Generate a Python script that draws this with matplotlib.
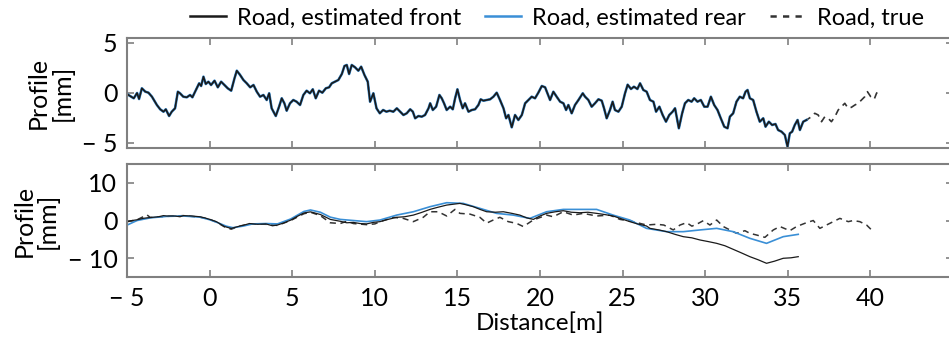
import matplotlib
matplotlib.use("Agg")
import matplotlib.pyplot as plt

plt.rcParams['font.family'] = ['Lato', 'DejaVu Sans']

# top panel: estimated profile (front and rear practically overlap)
top_est = [(-5.0, -0.1), (-4.92, -0.2), (-4.6, -0.53), (-4.4, 0.0), (-4.28, -0.6), (-4.11, 0.47),
           (-3.9, 0.13), (-3.71, 0.03), (-3.5, -0.37), (-3.2, -1.2), (-3.0, -1.63), (-2.8, -1.87),
           (-2.66, -1.63), (-2.46, -2.3), (-2.3, -1.87), (-2.1, -1.53), (-1.93, 0.13), (-1.8, -0.03),
           (-1.6, -0.37), (-1.39, -0.43), (-1.19, -0.2), (-1.05, -0.43), (-0.84, 0.3), (-0.64, 0.97),
           (-0.52, 0.7), (-0.38, 1.63), (-0.24, 0.9), (-0.08, 1.13), (0.08, 0.8), (0.29, 1.23),
           (0.49, 0.57), (0.69, 1.13), (0.89, 0.8), (1.09, 0.47), (1.3, 0.23), (1.5, 1.47),
           (1.64, 2.23), (1.84, 1.8), (2.04, 1.3), (2.24, 0.97), (2.45, 0.57), (2.65, 0.8),
           (2.85, 0.13), (3.05, -0.37), (3.25, -0.2), (3.45, -0.7), (3.6, -0.03), (3.75, -1.53),
           (4.0, -2.3), (4.2, -1.37), (4.36, -0.53), (4.52, -1.03), (4.66, -1.77), (4.86, -1.03),
           (5.06, -0.7), (5.26, -0.87), (5.47, -1.2), (5.67, -0.2), (5.87, 0.23), (6.07, -0.03),
           (6.24, 0.37), (6.42, -0.53), (6.62, 0.23), (6.82, 0.03), (7.03, 0.47), (7.23, 0.57),
           (7.39, 0.97), (7.59, 1.13), (7.79, 1.3), (8.0, 1.9), (8.16, 2.7), (8.3, 2.8),
           (8.44, 1.9), (8.6, 2.8), (8.8, 2.57), (9.0, 2.23), (9.17, 2.63), (9.37, 1.8),
           (9.57, 1.13), (9.71, -0.87), (9.91, -0.03), (10.1, -1.53), (10.3, -2.03), (10.5, -1.7),
           (10.7, -1.87), (10.9, -1.77), (11.12, -1.87), (11.33, -1.53), (11.73, -2.2), (11.93, -2.03),
           (12.14, -1.63), (12.3, -1.87), (12.44, -2.53), (12.64, -2.3), (12.84, -2.37), (13.04, -2.2),
           (13.25, -1.53), (13.35, -1.03), (13.51, -1.7), (13.71, -1.37), (13.91, -0.2), (14.05, -0.53),
           (14.19, -1.03), (14.35, -1.7), (14.56, -1.37), (14.72, -1.63), (14.86, -0.53), (15.0, 0.37),
           (15.16, -0.7), (15.32, -1.53), (15.46, -1.03), (15.67, -1.87), (15.87, -1.7), (16.07, -1.63),
           (16.27, -1.2), (16.41, -0.63), (16.57, -0.77), (16.78, -0.7), (16.98, -0.63), (17.18, -0.37),
           (17.38, 0.03), (17.58, -0.7), (17.79, -1.53), (17.95, -2.53), (18.09, -2.2), (18.29, -3.43),
           (18.49, -2.2), (18.69, -2.7), (18.9, -2.2), (19.1, -1.03), (19.3, -0.7), (19.5, -0.37),
           (19.7, -0.53), (19.9, 0.03), (20.11, 0.7), (20.31, 0.57), (20.45, -0.03), (20.61, -0.7),
           (20.81, 0.13), (21.01, -0.37), (21.22, -0.87), (21.42, -1.03), (21.58, -1.7), (21.72, -1.2),
           (21.92, -2.03), (22.12, -1.2), (22.33, -0.7), (22.59, -0.03), (22.73, -0.37), (22.93, -0.7),
           (23.13, -1.37), (23.33, -1.03), (23.54, -0.63), (23.74, -0.77), (23.88, -1.53), (24.04, -2.53),
           (24.24, -1.7), (24.4, -0.87), (24.54, -1.7), (24.75, -1.87), (24.95, -1.37), (25.15, -0.03),
           (25.31, 0.83), (25.51, 0.4), (25.69, 0.63), (25.9, 0.4), (26.06, 0.97), (26.26, 0.3),
           (26.46, 0.13), (26.66, -0.7), (26.87, -0.87), (27.03, -1.87), (27.23, -1.37), (27.43, -2.2),
           (27.63, -2.87), (27.83, -2.2), (28.03, -1.87), (28.18, -1.53), (28.41, -3.53), (28.61, -2.03),
           (28.78, -1.03), (28.98, -0.7), (29.18, -0.87), (29.34, -0.53), (29.54, -0.87), (29.74, -0.7),
           (29.95, -1.37), (30.15, -1.37), (30.35, -0.37), (30.55, -1.2), (30.75, -1.7), (30.95, -2.53),
           (31.16, -3.37), (31.36, -3.53), (31.5, -2.37), (31.7, -2.03), (31.9, -0.87), (32.1, -0.37),
           (32.3, -0.53), (32.45, 0.13), (32.57, 0.3), (32.71, -0.53), (32.91, -0.7), (33.11, -1.87),
           (33.31, -2.87), (33.52, -2.53), (33.66, -3.37), (33.86, -2.87), (34.06, -3.2), (34.26, -3.1),
           (34.42, -3.7), (34.63, -3.87), (34.83, -4.2), (34.99, -5.37), (35.13, -4.03), (35.27, -3.87),
           (35.43, -3.2), (35.6, -2.7), (35.74, -3.7), (35.94, -2.87), (36.14, -2.7)]

# top panel: true road beyond the estimate
top_true_tail = [(36.44, -2.37), (36.64, -2.03), (36.85, -2.2), (37.05, -2.87), (37.25, -2.37),
                 (37.45, -2.53), (37.65, -2.87), (37.86, -2.37), (38.06, -1.7), (38.26, -1.37),
                 (38.46, -1.03), (38.66, -1.53), (38.86, -1.43), (39.07, -1.2), (39.27, -1.03),
                 (39.47, -0.7), (39.67, -0.37), (39.83, 0.13), (40.03, -0.37), (40.24, -0.63),
                 (40.38, -0.03), (40.52, 0.23)]

# bottom panel
bot_front = [(-5.0, -0.3), (-4.7, 0.0), (-4.4, 0.2), (-4.0, 0.6), (-3.6, 0.8), (-3.1, 1.0), (-2.8, 1.3),
             (-2.6, 1.2), (-2.1, 1.2), (-1.8, 1.0), (-1.6, 1.3), (-1.1, 1.2), (-0.6, 1.0), (-0.3, 0.7),
             (0.0, 0.3), (0.4, -0.3), (0.9, -1.6), (1.3, -2.1), (1.8, -1.5), (2.1, -1.2), (2.4, -0.8),
             (2.9, -1.0), (3.4, -0.9), (3.8, -1.4), (4.1, -1.2), (4.5, -0.6), (4.9, 0.1), (5.3, 1.1),
             (5.7, 2.0), (6.1, 2.3), (6.7, 1.6), (7.3, 0.3), (7.9, -0.2), (8.3, -0.6), (8.7, -0.5),
             (9.1, -0.8), (9.5, -0.9), (9.9, -0.5), (10.31, -0.3), (10.8, 0.3), (11.32, 0.85),
             (11.8, 1.0), (12.33, 1.44), (12.8, 2.1), (13.34, 2.95), (13.8, 3.5), (14.35, 4.1),
             (15.15, 4.55), (15.5, 4.2), (15.96, 3.67), (16.4, 2.9), (16.77, 2.33), (17.3, 2.2),
             (17.78, 2.33), (18.3, 1.9), (18.78, 1.44), (19.2, 0.7), (19.6, 0.3), (20.0, 1.2),
             (20.4, 1.9), (20.9, 2.3), (21.41, 2.6), (21.9, 2.2), (22.42, 2.07), (22.9, 2.2),
             (23.43, 1.9), (23.9, 1.6), (24.43, 1.2), (24.9, 0.5), (25.44, -0.3), (25.9, -0.9),
             (26.45, -1.45), (26.66, -2.08), (27.2, -2.5), (27.67, -2.96), (28.2, -3.7), (28.68, -4.29),
             (29.2, -4.6), (29.69, -5.17), (30.2, -5.6), (30.7, -6.06), (31.2, -6.7), (31.7, -7.65),
             (32.2, -8.6), (32.71, -9.6), (33.2, -10.4), (33.72, -11.36), (34.2, -10.8), (34.73, -10.03),
             (35.2, -9.9), (35.64, -9.6)]

bot_rear = [(-5.0, -1.2), (-4.4, 0.0), (-3.6, 0.7), (-2.6, 1.1), (-1.6, 1.2), (-0.6, 0.9), (0.0, 0.2),
            (0.5, -0.6), (1.0, -1.5), (1.4, -1.9), (2.0, -1.5), (2.6, -0.9), (3.4, -0.8), (4.1, -0.9),
            (4.9, 0.4), (5.7, 2.4), (6.1, 2.8), (6.7, 2.2), (7.3, 0.9), (7.9, 0.3), (8.7, 0.0),
            (9.5, -0.3), (10.31, 0.13), (11.32, 1.44), (12.33, 2.33), (13.34, 3.67), (14.35, 4.73),
            (15.35, 4.55), (16.36, 3.23), (17.37, 1.9), (18.38, 1.44), (19.39, 0.57), (20.4, 2.33),
            (21.41, 2.95), (22.42, 2.95), (23.43, 2.95), (24.43, 1.44), (25.44, 0.13), (26.45, -2.08),
            (27.67, -2.96), (28.68, -2.96), (29.69, -2.5), (30.7, -2.08), (31.7, -2.96), (32.71, -4.73),
            (33.72, -6.06), (34.73, -4.29), (35.64, -3.67)]

bot_true = [(-5.0, -0.3), (-4.4, 0.2), (-3.8, 1.5), (-3.6, 0.8), (-2.6, 1.1), (-1.6, 1.3), (-0.6, 0.9),
            (0.0, 0.3), (0.4, -0.4), (0.9, -1.7), (1.3, -2.3), (1.8, -1.5), (2.4, -0.9), (3.4, -1.0),
            (4.1, -1.3), (4.9, 0.0), (5.7, 1.8), (6.1, 2.2), (6.7, 1.3), (7.3, -0.6), (7.9, -0.8),
            (8.3, -0.2), (8.7, -0.8), (9.5, -1.1), (10.0, -0.9), (10.31, -0.3), (11.12, 0.85),
            (11.72, 0.57), (12.33, -0.3), (12.93, 0.85), (13.34, 2.33), (13.84, 2.33), (14.35, 1.2),
            (14.85, 2.95), (15.15, 1.9), (15.76, 1.7), (16.36, 0.85), (16.77, -0.7), (17.17, 0.13),
            (17.57, 0.85), (18.08, -0.3), (18.58, -0.75), (18.99, -1.6), (19.59, 0.13), (20.4, 1.44),
            (20.8, 1.0), (21.41, 2.33), (22.01, 1.44), (22.62, 1.9), (23.43, 1.2), (24.23, 1.44),
            (24.84, 0.3), (25.64, -0.3), (26.45, -1.2), (27.06, -1.0), (27.5, -1.2), (28.07, -2.5),
            (28.48, -1.2), (28.88, -0.57), (29.2, -1.5), (29.59, -0.75), (29.89, -0.04), (30.29, -1.2),
            (30.7, 0.13), (31.1, -1.6), (31.5, -2.5), (31.9, -3.4), (32.41, -2.7), (32.71, -3.4),
            (33.12, -3.85), (33.62, -4.47), (34.13, -2.5), (34.53, -1.6), (35.13, -2.7), (35.54, -1.6),
            (36.14, -0.57), (36.55, 0.0), (36.95, -2.08), (37.35, -1.2), (37.76, -0.3), (38.16, 0.57),
            (38.67, -0.3), (38.97, 0.0), (39.37, -0.3), (39.78, -1.2), (40.08, -2.5)]

x_ticks = [-5, 0, 5, 10, 15, 20, 25, 30, 35, 40]
x_labels = ['\u2212 5', '0', '5', '10', '15', '20', '25', '30', '35', '40']

black = '#1a1a1a'
blue = '#3a8fd6'
gray = '#333333'
spine = '#808080'


def xy(pts):
    return [p[0] for p in pts], [p[1] for p in pts]


fig = plt.figure(figsize=(9.49, 3.47), dpi=100)
ax1 = fig.add_axes([0.134, 0.5735, 0.870, 0.317])
ax2 = fig.add_axes([0.134, 0.2017, 0.870, 0.3256])

tx, ty = xy(top_est)
ttx, tty = xy(top_true_tail)
ax1.plot(tx + ttx, ty + tty, color=gray, lw=1.2, dashes=(4, 3))
ax1.plot(tx, ty, color=blue, lw=1.9)
ax1.plot(tx, ty, color=black, lw=1.2)

bx, by = xy(bot_true)
ax2.plot(bx, by, color=gray, lw=1.1, dashes=(4, 3))
rx, ry = xy(bot_rear)
ax2.plot(rx, ry, color=blue, lw=1.2)
fx, fy = xy(bot_front)
ax2.plot(fx, fy, color=black, lw=0.9)

for ax in (ax1, ax2):
    ax.set_xlim(-5, 45)
    ax.set_xticks(x_ticks)
    ax.tick_params(direction='in', top=True, right=True, length=5, width=1.2,
                   color=spine, labelsize=18, pad=7)
    for s in ax.spines.values():
        s.set_color(spine)
        s.set_linewidth(1.5)
    ax.set_ylabel('Profile\n[mm]', fontsize=18, labelpad=6, linespacing=1.05)

ax1.set_ylim(-5.5, 5.5)
ax1.set_yticks([-5, 0, 5])
ax1.set_yticklabels(['\u2212 5', '0', '5'])
ax1.tick_params(labelbottom=False)

ax2.set_ylim(-15, 15)
ax2.set_yticks([-10, 0, 10])
ax2.set_yticklabels(['\u2212 10', '0', '10'])
ax2.set_xticklabels(x_labels)
ax2.set_xlabel('Distance[m]', fontsize=17.5, labelpad=2)

handles = [plt.Line2D([], [], color=black, lw=1.8),
           plt.Line2D([], [], color=blue, lw=1.8),
           plt.Line2D([], [], color=gray, lw=1.8, dashes=(2.5, 2.5))]
fig.legend(handles, ['Road, estimated front', 'Road, estimated rear', 'Road, true'],
           loc='upper center', bbox_to_anchor=(0.587, 1.04), ncol=3, frameon=False,
           fontsize=17, handlelength=1.5, columnspacing=1.0, handletextpad=0.5)

fig.savefig('out.png', dpi=100)
